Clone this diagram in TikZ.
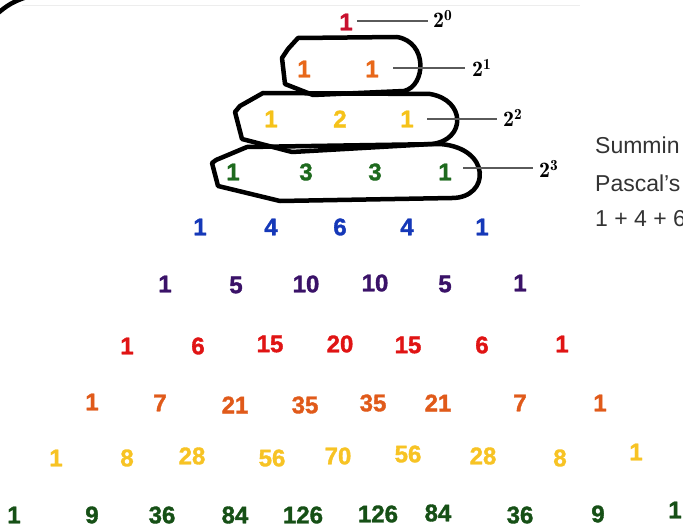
\documentclass[tikz,border=0pt]{standalone}
\usepackage{fontspec}
\setsansfont{Liberation Sans}
\newfontfamily\numfont[FakeBold=1.5]{Liberation Sans Bold}
\definecolor{cR0}{HTML}{C8102E}
\definecolor{cR1}{HTML}{E8681A}
\definecolor{cR2}{HTML}{F5C21A}
\definecolor{cR3}{HTML}{1E6A1E}
\definecolor{cR4}{HTML}{1538B8}
\definecolor{cR5}{HTML}{3A1268}
\definecolor{cR6}{HTML}{E01414}
\definecolor{cR7}{HTML}{E05A1A}
\definecolor{cR8}{HTML}{F7C324}
\definecolor{cR9}{HTML}{165016}
\definecolor{txtgray}{HTML}{333333}
\definecolor{leadgray}{HTML}{5A5A5A}
\tikzset{
  num/.style={inner sep=0pt, font=\numfont\fontsize{24}{24}\selectfont},
  pow/.style={inner sep=0pt, anchor=west, font=\fontsize{22}{22}\selectfont},
  lead/.style={draw=leadgray, line width=1.8pt},
  blob/.style={draw=black, line width=4.5pt, line join=round, line cap=round},
  side/.style={inner sep=0pt, anchor=west, text=txtgray, font=\sffamily\fontsize{23}{23}\selectfont},
}
\begin{document}
\begin{tikzpicture}[x=1pt,y=-1pt]
\useasboundingbox (0,0) rectangle (683,527);
% faint top rule and corner arc
\draw[draw=black!7, line width=1pt] (22,6) -- (580,6);
\coordinate (arcA) at (-3,14);
\coordinate (arcB) at (27,-3);
\draw[line width=4.5pt] (arcA) .. controls (6,6) and (14,1) .. (arcB);

% hand-drawn outlines
\draw[blob] (298,38) -- (397,37) .. controls (428,42) and (426,86) .. (404,91) -- (313,95) -- (285,84) -- (282,58) -- (288,49) -- cycle;
\draw[blob] (263,93) -- (430,94) .. controls (466,100) and (466,140) .. (432,144) -- (292,152) -- (242,139) -- (235,112) -- (240,106) -- cycle;
\draw[blob] (247,147) -- (440,144) .. controls (492,148) and (490,198) .. (452,198) -- (280,201) -- (218,186) -- (212,163) -- (216,160) -- cycle;

% row 0
\node[num, text=cR0] (a0) at (346,22) {1};
% row 1
\node[num, text=cR1] (b0) at (304,69) {1};
\node[num, text=cR1] (b1) at (372,69) {1};
% row 2
\node[num, text=cR2] (c0) at (271,119) {1};
\node[num, text=cR2] (c1) at (340,119) {2};
\node[num, text=cR2] (c2) at (407,119) {1};
% row 3
\node[num, text=cR3] (d0) at (233,172) {1};
\node[num, text=cR3] (d1) at (306,172) {3};
\node[num, text=cR3] (d2) at (375,172) {3};
\node[num, text=cR3] (d3) at (445,172) {1};

% powers of two with leader lines
\node[pow] (p0) at (433,19) {$\mathbf{2^{0}}$};
\node[pow] (p1) at (472,68) {$\mathbf{2^{1}}$};
\node[pow] (p2) at (503,118) {$\mathbf{2^{2}}$};
\node[pow] (p3) at (539,169) {$\mathbf{2^{3}}$};
\coordinate (s0) at (357,21);
\coordinate (e0) at (428,21);
\coordinate (s1) at (393,68);
\coordinate (e1) at (465,68);
\coordinate (s2) at (427,119);
\coordinate (e2) at (497,119);
\coordinate (s3) at (463,168);
\coordinate (e3) at (533,168);
\draw[lead] (s0) -- (e0);
\draw[lead] (s1) -- (e1);
\draw[lead] (s2) -- (e2);
\draw[lead] (s3) -- (e3);

% row 4
\node[num, text=cR4] (f0) at (200,227) {1};
\node[num, text=cR4] (f1) at (271,227) {4};
\node[num, text=cR4] (f2) at (340,227) {6};
\node[num, text=cR4] (f3) at (407,227) {4};
\node[num, text=cR4] (f4) at (482,227) {1};
% row 5
\node[num, text=cR5] (g0) at (165,284) {1};
\node[num, text=cR5] (g1) at (236,285) {5};
\node[num, text=cR5] (g2) at (306,284) {10};
\node[num, text=cR5] (g3) at (375,283) {10};
\node[num, text=cR5] (g4) at (445,284) {5};
\node[num, text=cR5] (g5) at (520,283) {1};
% row 6
\node[num, text=cR6] (h0) at (127,346) {1};
\node[num, text=cR6] (h1) at (198,346) {6};
\node[num, text=cR6] (h2) at (270,344) {15};
\node[num, text=cR6] (h3) at (340,344) {20};
\node[num, text=cR6] (h4) at (408,345) {15};
\node[num, text=cR6] (h5) at (482,345) {6};
\node[num, text=cR6] (h6) at (562,344) {1};
% row 7
\node[num, text=cR7] (i0) at (92,402) {1};
\node[num, text=cR7] (i1) at (160,403) {7};
\node[num, text=cR7] (i2) at (235,405) {21};
\node[num, text=cR7] (i3) at (305,405) {35};
\node[num, text=cR7] (i4) at (373,403) {35};
\node[num, text=cR7] (i5) at (438,403) {21};
\node[num, text=cR7] (i6) at (520,403) {7};
\node[num, text=cR7] (i7) at (600,403) {1};
% row 8
\node[num, text=cR8] (j0) at (56,458) {1};
\node[num, text=cR8] (j1) at (127,458) {8};
\node[num, text=cR8] (j2) at (192,456) {28};
\node[num, text=cR8] (j3) at (272,458) {56};
\node[num, text=cR8] (j4) at (338,456) {70};
\node[num, text=cR8] (j5) at (408,454) {56};
\node[num, text=cR8] (j6) at (483,456) {28};
\node[num, text=cR8] (j7) at (560,458) {8};
\node[num, text=cR8] (j8) at (636,452) {1};
% row 9
\node[num, text=cR9] (k0) at (14,515) {1};
\node[num, text=cR9] (k1) at (92,515) {9};
\node[num, text=cR9] (k2) at (162,515) {36};
\node[num, text=cR9] (k3) at (235,515) {84};
\node[num, text=cR9] (k4) at (303,515) {126};
\node[num, text=cR9] (k5) at (378,514) {126};
\node[num, text=cR9] (k6) at (438,513) {84};
\node[num, text=cR9] (k7) at (520,515) {36};
\node[num, text=cR9] (k8) at (598,514) {9};
\node[num, text=cR9] (k9) at (675,510) {1};

% side text (cut at the right edge, as in the reference)
\node[side] (t0) at (595,145) {Summin};
\node[side] (t1) at (595,183) {Pascal's};
\node[side] (t2) at (595,219) {1 + 4 + 6};
\end{tikzpicture}
\end{document}
